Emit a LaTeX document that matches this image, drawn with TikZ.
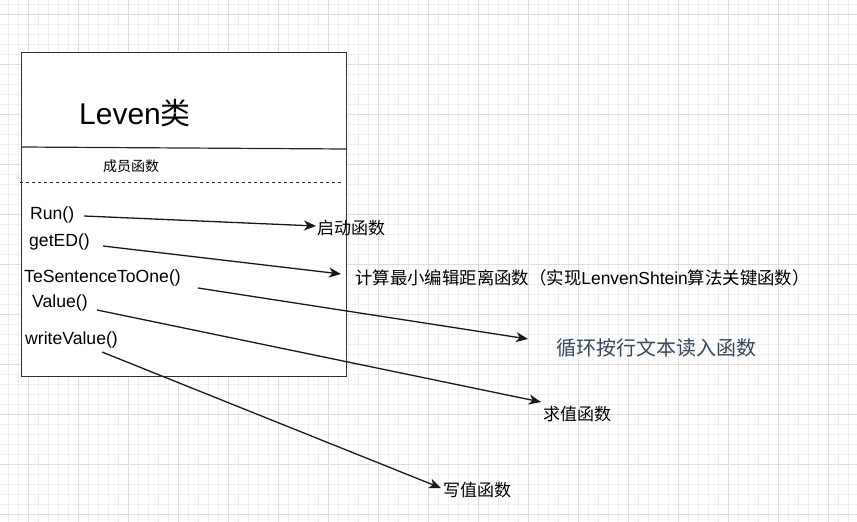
\documentclass[tikz,border=0pt]{standalone}
\usepackage{fontspec}
\setmainfont{Liberation Sans}
\newfontfamily\cjk{Noto Sans CJK SC}
\usetikzlibrary{arrows.meta}
\definecolor{gridminor}{HTML}{EFEFEF}
\definecolor{gridmajor}{HTML}{DDDDDD}
\definecolor{slate}{HTML}{34495E}
\tikzset{
  lbl/.style={anchor=west,inner sep=0pt,font=\fontsize{17.6}{19}\selectfont},
  desc/.style={anchor=west,inner sep=0pt,font=\fontsize{17}{19}\selectfont\cjk},
  conn/.style={line width=1.3pt,draw=black!90,-{Stealth[length=12pt,width=10pt,inset=3.5pt]}},
}
\begin{document}
\begin{tikzpicture}[x=1pt,y=-1pt]
\useasboundingbox (0,0) rectangle (857,522);
\fill[white] (0,0) rectangle (857,522);
% grid
\foreach \x in {8,18,...,858} \draw[gridminor,line width=0.8pt] (\x,0) -- (\x,522);
\foreach \y in {4,14,...,522} \draw[gridminor,line width=0.8pt] (0,\y) -- (857,\y);
\foreach \x in {28,78,...,858} \draw[gridmajor,line width=0.9pt] (\x,0) -- (\x,522);
\foreach \y in {14,64,...,522} \draw[gridmajor,line width=0.9pt] (0,\y) -- (857,\y);
% class box
\node[draw=black!80,line width=1.3pt,fill=white,minimum width=325pt,minimum height=324pt,anchor=north west,inner sep=0pt] (box) at (21,52) {};
\draw[line width=1.2pt,black!85] (21,147) -- (347,149);
\draw[line width=1pt,dash pattern=on 3pt off 3pt,black!85] (20,182) -- (341,182);
\node[anchor=west,inner sep=0pt,font=\fontsize{30}{32}\selectfont] (title) at (79,113) {Leven{\cjk 类}};
\node[anchor=west,inner sep=0pt,font=\fontsize{14}{16}\selectfont\cjk] (members) at (103,166) {成员函数};
% members
\node[lbl] (run) at (30,215) {Run()};
\node[lbl] (geted) at (29,242) {getED()};
\node[lbl] (tes) at (24,278) {TeSentenceToOne()};
\node[lbl] (value) at (32,303) {Value()};
\node[lbl] (write) at (25,340) {writeValue()};
% descriptions
\node[desc] (d1) at (317,228) {启动函数};
\node[desc,font=\fontsize{17.4}{19}\selectfont\cjk] (d2) at (355,278) {计算最小编辑距离函数（实现{\rmfamily LenvenShtein}算法关键函数）};
\node[desc,font=\fontsize{20}{22}\selectfont\cjk,text=slate] (d3) at (556,348) {循环按行文本读入函数};
\node[desc] (d4) at (543,414) {求值函数};
\node[desc] (d5) at (443,490) {写值函数};
% connector ends
\coordinate (s1) at (84,216);  \coordinate (e1) at (316,226);
\coordinate (s2) at (103,246); \coordinate (e2) at (341,274);
\coordinate (s3) at (198,288); \coordinate (e3) at (528,339);
\coordinate (s4) at (97,310);  \coordinate (e4) at (541,402);
\coordinate (s5) at (102,352); \coordinate (e5) at (441,488);
\draw[conn] (s1) -- (e1);
\draw[conn] (s2) -- (e2);
\draw[conn] (s3) -- (e3);
\draw[conn] (s4) -- (e4);
\draw[conn] (s5) -- (e5);
\end{tikzpicture}
\end{document}
